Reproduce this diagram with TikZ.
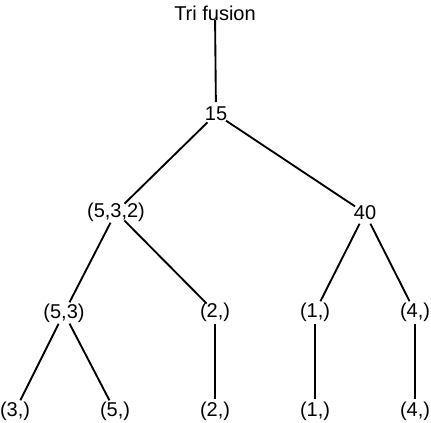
\documentclass[tikz,border=0pt]{standalone}
\usepackage{fontspec}
\setmainfont{Liberation Sans}
\usepackage{tikz}
\tikzset{>=latex}

\begin{document}
\begin{tikzpicture}[x=0.75pt, y=-0.75pt,
  lab/.style={inner sep=0pt, font=\fontsize{15}{18}\selectfont},
  edg/.style={line width=1.4pt, shorten <=9pt, shorten >=9pt}]
\useasboundingbox (0,0) rectangle (431,422);
\node[lab] (root) at (215,13) {Tri fusion};
\node[lab] (n15) at (216,114) {15};
\node[lab] (n532) at (116,212) {(5,3,2)};
\node[lab] (n40) at (365,213) {40};
\node[lab] (n53) at (64,313) {(5,3)};
\node[lab] (n2) at (215,312) {(2,)};
\node[lab] (n1) at (315,312) {(1,)};
\node[lab] (n4) at (415,312) {(4,)};
\node[lab] (l3) at (15,411) {(3,)};
\node[lab] (l5) at (115,411) {(5,)};
\node[lab] (l2) at (215,411) {(2,)};
\node[lab] (l1) at (315,411) {(1,)};
\node[lab] (l4) at (415,411) {(4,)};
\draw[edg, shorten <=5pt] (root.center) -- (n15.center);
\draw[edg] (n15.center) -- (n532.center);
\draw[edg] (n15.center) -- (n40.center);
\draw[edg] (n532.center) -- (n53.center);
\draw[edg] (n532.center) -- (n2.center);
\draw[edg] (n40.center) -- (n1.center);
\draw[edg] (n40.center) -- (n4.center);
\draw[edg] (n53.center) -- (l3.center);
\draw[edg] (n53.center) -- (l5.center);
\draw[edg] (n2.center) -- (l2.center);
\draw[edg] (n1.center) -- (l1.center);
\draw[edg] (n4.center) -- (l4.center);
\end{tikzpicture}
\end{document}
